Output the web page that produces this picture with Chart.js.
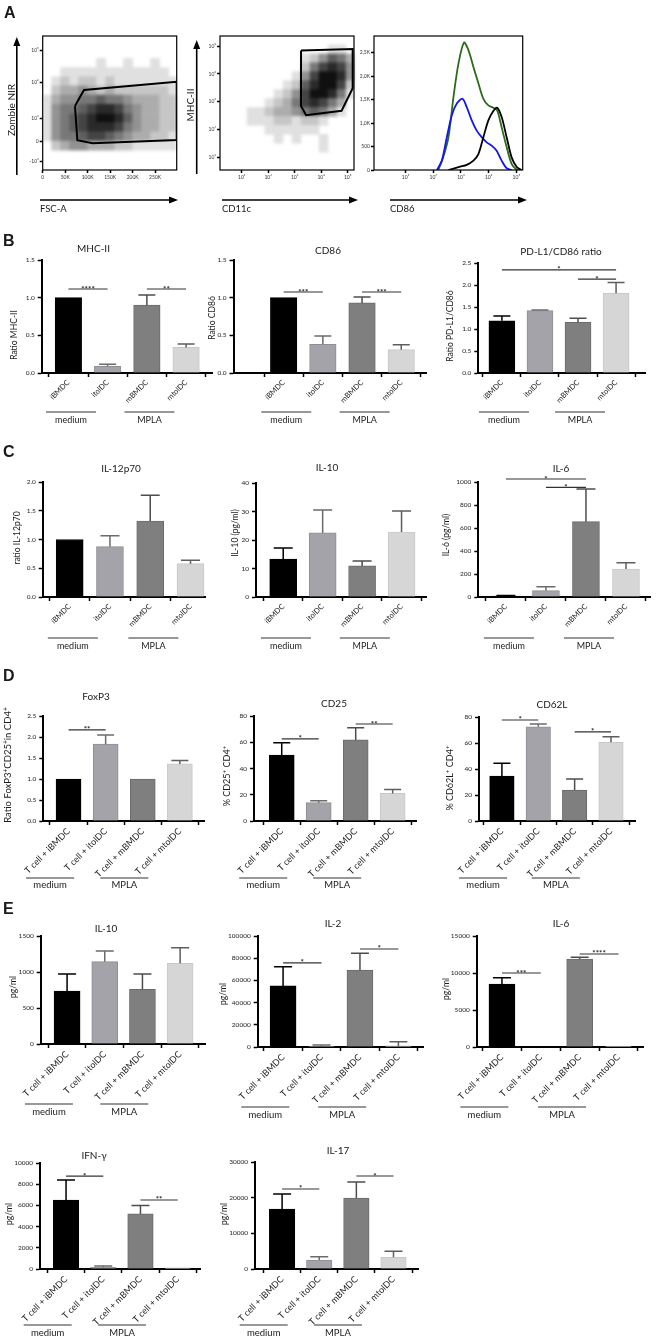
<!DOCTYPE html>
<html><head><meta charset="utf-8">
<script src="https://cdn.jsdelivr.net/npm/chart.js@4.4.1/dist/chart.umd.min.js"></script>
<style>
html,body{margin:0;padding:0;background:#fff}
body{position:relative;width:656px;height:1339px;overflow:hidden;font-family:Lato,"DejaVu Sans",sans-serif;color:#1a1a1a}
canvas{position:absolute}
.t{position:absolute;white-space:nowrap;line-height:1;transform:translate(-50%,-50%);color:#1a1a1a;filter:grayscale(1)}
.r{transform:translate(-50%,-50%) rotate(-90deg)}
.l{position:absolute;white-space:nowrap;line-height:1;transform:translateY(-50%);color:#1a1a1a;filter:grayscale(1)}
.p{position:absolute;font-family:"Liberation Sans",Arial,sans-serif;font-weight:bold;font-size:16px;line-height:1;transform:translateY(-50%)}
sup{font-size:0.7em;vertical-align:0.45em;line-height:0}
svg{position:absolute;left:0;top:0}
</style></head><body>
<svg width="656" height="230">
  <line x1="16.8" y1="175" x2="16.8" y2="44" stroke="#000" stroke-width="1.6"/>
  <polygon points="16.8,37 13.3,46 20.3,46" fill="#000"/>
  <line x1="196.7" y1="174" x2="196.7" y2="47" stroke="#000" stroke-width="1.6"/>
  <polygon points="196.7,40 193.2,49 200.2,49" fill="#000"/>
  <line x1="40" y1="200" x2="172" y2="200" stroke="#000" stroke-width="1.6"/>
  <polygon points="178,200 169,196.5 169,203.5" fill="#000"/>
  <line x1="222" y1="200" x2="352" y2="200" stroke="#000" stroke-width="1.6"/>
  <polygon points="358,200 349,196.5 349,203.5" fill="#000"/>
  <line x1="390" y1="200" x2="521" y2="200" stroke="#000" stroke-width="1.6"/>
  <polygon points="527,200 518,196.5 518,203.5" fill="#000"/>
</svg>
<script>
// ================= DATA =================
// ---- Panel A : flow cytometry ----
const FSC_TICKS = [0, 50, 100, 150, 200, 250];
const FSC_TICK_LABELS = ['0', '50K', '100K', '150K', '200K', '250K'];
const ZNIR_TICKS = [-0.9, 0, 1, 2.55, 3.95];
const ZNIR_TICK_LABELS = ['-10³', '0', '10³', '10⁴', '10⁵'];
const LOG_TICKS = [1, 2, 3, 4, 5];
const LOG_TICK_LABELS = ['10¹', '10²', '10³', '10⁴', '10⁵'];
const COUNT_TICKS = [0, 500, 1000, 1500, 2000, 2500];
const COUNT_TICK_LABELS = ['0', '500', '1,0K', '1,5K', '2,0K', '2,5K'];

// live-cell gate (FSC-A in K, Zombie NIR in display decades)
const LIVE_GATE_FSC = [71.8, 91.8, 298, 298, 111, 77, 71.8];
const LIVE_GATE_ZNIR = [1.52, 2.22, 2.58, 0.04, -0.1, 0.04, 1.52];
// DC gate (CD11c, MHC-II in decades)
const DC_GATE_CD11C = [3.24, 5.19, 5.19, 4.77, 3.43, 3.24, 3.24];
const DC_GATE_MHCII = [4.84, 4.89, 3.49, 2.68, 2.52, 2.85, 4.84];

// event density (0 = empty .. 9 = densest), rows top -> bottom
const LIVE_BINS = { x0: 0, dx: 20, yTop: 4.4, dy: 0.4 };
const LIVE_DENSITY = [
  '000000000000000',
  '000000000000000',
  '000000100100100',
  '001111111111110',
  '012122121111111',
  '023343232222221',
  '134455655433322',
  '145567887543322',
  '145678998643322',
  '145678887543322',
  '145567765433221',
  '023443332211111',
  '000000000000000',
  '000000000000000'
];
const DC_BINS = { x0: 0.18, dx: 0.34, yTop: 5.36, dy: 0.32 };
const DC_DENSITY = [
  '000000000000000',
  '000000000000110',
  '000000000124653',
  '000000000257874',
  '000000001479984',
  '000000012689972',
  '000000124799851',
  '000001235787530',
  '000112334565310',
  '000111221221000',
  '000001111110000',
  '000000101001000',
  '000000000001000',
  '000000000000000',
  '000000000000000'
];

// CD86 histograms (x in decades, y count in K)
const CD86_GREEN_X = [2.18, 2.36, 2.55, 2.73, 2.91, 3.11, 3.27, 3.45, 3.63, 3.81, 3.99, 4.17, 4.31, 4.47, 4.65, 4.83, 5.01, 5.18];
const CD86_GREEN_Y = [0, 0.27, 0.70, 1.56, 2.27, 2.72, 2.56, 2.20, 1.85, 1.52, 1.38, 1.33, 1.27, 0.91, 0.49, 0.13, 0.01, 0];
const CD86_BLUE_X = [2.13, 2.31, 2.49, 2.67, 2.85, 3.06, 3.21, 3.39, 3.57, 3.75, 3.93, 4.11, 4.29, 4.47, 4.65, 4.83];
const CD86_BLUE_Y = [0, 0.20, 0.70, 1.17, 1.42, 1.52, 1.34, 1.06, 0.84, 0.70, 0.59, 0.52, 0.41, 0.20, 0.04, 0];
const CD86_BLACK_X = [2.55, 2.73, 2.97, 3.21, 3.45, 3.63, 3.81, 3.99, 4.17, 4.31, 4.47, 4.65, 4.83, 5.01, 5.18];
const CD86_BLACK_Y = [0, 0.03, 0.07, 0.11, 0.20, 0.34, 0.70, 1.06, 1.26, 1.33, 1.13, 0.70, 0.27, 0.07, 0];

// ---- Bar panels ----
const DC_LABELS = ['iBMDC', 'itolDC', 'mBMDC', 'mtolDC'];
const TCELL_LABELS = ['T cell + iBMDC', 'T cell + itolDC', 'T cell + mBMDC', 'T cell + mtolDC'];
const GROUPS = ['medium', 'MPLA'];

// B
const MHCII_MEAN = [1.00, 0.09, 0.90, 0.34];
const MHCII_SEM = [0, 0.025, 0.135, 0.045];
const MHCII_SIG = [[0, 1, 1.115, '****'], [2, 3, 1.115, '**']];
const CD86_MEAN = [1.00, 0.38, 0.93, 0.31];
const CD86_SEM = [0, 0.11, 0.08, 0.065];
const CD86_SIG = [[0, 1, 1.075, '***'], [2, 3, 1.075, '***']];
const PDL1_MEAN = [1.19, 1.42, 1.155, 1.815];
const PDL1_SEM = [0.11, 0.015, 0.09, 0.245];
const PDL1_SIG = [[0, 3, 2.35, '*'], [2, 3, 2.14, '*']];
// C
const IL12_MEAN = [1.00, 0.875, 1.32, 0.58];
const IL12_SEM = [0, 0.19, 0.45, 0.06];
const IL10DC_MEAN = [13.3, 22.5, 10.9, 22.8];
const IL10DC_SEM = [3.9, 8.0, 1.7, 7.4];
const IL6DC_MEAN = [8, 55, 655, 243];
const IL6DC_SEM = [6, 35, 284, 55];
const IL6DC_SIG = [[0, 2, 1026, '*'], [1, 2, 954, '*']];
// D
const FOXP3_MEAN = [1.00, 1.83, 1.00, 1.36];
const FOXP3_SEM = [0, 0.22, 0, 0.08];
const FOXP3_SIG = [[0, 1, 2.17, '**']];
const CD25_MEAN = [50.3, 14, 61.8, 21];
const CD25_SEM = [9.4, 1.5, 9.2, 3];
const CD25_SIG = [[0, 1, 62.5, '*'], [2, 3, 73.9, '**']];
const CD62L_MEAN = [34.6, 72.5, 23.8, 60.5];
const CD62L_SEM = [9.8, 2.1, 8.5, 4.3];
const CD62L_SIG = [[0, 1, 77.7, '*'], [2, 3, 68.5, '*']];
// E
const IL10T_MEAN = [736, 1143, 760, 1120];
const IL10T_SEM = [236, 149, 212, 217];
const IL2_MEAN = [55000, 600, 69400, 1000];
const IL2_SEM = [17300, 1200, 15000, 3800];
const IL2_SIG = [[0, 1, 75700, '*'], [2, 3, 88300, '*']];
const IL6T_MEAN = [8510, 0, 11890, 40];
const IL6T_SEM = [860, 0, 230, 0];
const IL6T_SIG = [[0, 1, 10000, '***'], [2, 3, 12570, '****']];
const IFNG_MEAN = [6500, 160, 5200, 120];
const IFNG_SEM = [1900, 120, 800, 0];
const IFNG_SIG = [[0, 1, 8770, '*'], [2, 3, 6510, '**']];
const IL17_MEAN = [16800, 2500, 19900, 3300];
const IL17_SEM = [4200, 900, 4500, 1700];
const IL17_SIG = [[0, 1, 22430, '*'], [2, 3, 26070, '*']];

// ================= STYLE / LAYOUT =================
const BAR_FILL = ['#000000', '#a4a3aa', '#7f7f7f', '#d6d6d6'];
const BAR_EDGE = ['#000000', '#8f8e95', '#6b6b6b', '#c8c8c8'];
const ERR_COLOR = ['#000000', '#6b6b6b', '#4d4d4d', '#5e5e5e'];
const FONT = 'Lato, "DejaVu Sans", sans-serif';
Chart.defaults.font.family = FONT;
Chart.defaults.color = '#222';

function place(left, top, w, h, filter) {
  const c = document.createElement('canvas');
  c.width = w; c.height = h;
  c.style.left = left + 'px'; c.style.top = top + 'px';
  c.style.width = w + 'px'; c.style.height = h + 'px';
  if (filter) c.style.filter = filter;
  document.body.appendChild(c);
  return c;
}
function text(html, x, y, size, cls) {
  const d = document.createElement('div');
  d.className = cls;
  d.innerHTML = html;
  d.style.left = x + 'px'; d.style.top = y + 'px';
  d.style.fontSize = size + 'px';
  document.body.appendChild(d);
}

const frame = { id: 'frame', afterDraw(chart) {
  const { ctx, chartArea: a } = chart;
  ctx.save(); ctx.strokeStyle = '#000'; ctx.lineWidth = 1.2;
  ctx.strokeRect(a.left, a.top, a.right - a.left, a.bottom - a.top);
  ctx.restore();
}};

function flowScale(min, max, ticks, labels, fit, show) {
  return {
    type: 'linear', min, max,
    afterBuildTicks: sc => { sc.ticks = ticks.map(v => ({ value: v })); },
    afterFit: fit,
    grid: { display: show, drawOnChartArea: false, drawTicks: true, tickLength: 3, tickWidth: 1.5, tickColor: '#000' },
    border: { display: false },
    ticks: { display: show, autoSkip: false, maxRotation: 0, minRotation: 0, padding: 1, font: { size: 5 }, color: '#333',
      callback: (v, i) => labels[i] }
  };
}

function densityData(rows, b) {
  const pts = [], cols = [];
  rows.forEach((row, r) => [...row].forEach((ch, c) => {
    const d = +ch; if (!d) return;
    pts.push({ x: b.x0 + (c + 0.5) * b.dx, y: b.yTop - (r + 0.5) * b.dy });
    const g = Math.round(250 - d * 26);
    cols.push(`rgb(${g},${g},${g})`);
  }));
  return { pts, cols };
}

function flowChart(o) {
  const cl = Math.floor(o.left - o.wy), ct = Math.floor(o.top - 6);
  const wy = o.left - cl, padT = o.top - ct;
  const w = Math.ceil(o.right + 4 - cl), h = Math.ceil(o.bottom + 16 - ct);
  const padR = w - (o.right - cl), XH = 14, padB = h - XH - (o.bottom - ct);
  const layers = o.density ? [[o.density, false, 'blur(1.6px)'], [o.datasets, true, '']] : [[o.datasets, true, '']];
  layers.forEach(([datasets, show, filter]) => {
    new Chart(place(cl, ct, w, h, filter), {
      type: 'scatter',
      data: { datasets },
      options: {
        responsive: false, animation: false, devicePixelRatio: 1,
        layout: { padding: { left: 0, top: padT, right: padR, bottom: padB } },
        plugins: { legend: { display: false }, tooltip: { enabled: false } },
        scales: {
          x: flowScale(o.xmin, o.xmax, o.xticks, o.xlabels, sc => { sc.height = XH; sc.paddingLeft = 0; sc.paddingRight = 0; }, show),
          y: flowScale(o.ymin, o.ymax, o.yticks, o.ylabels, sc => { sc.width = wy; sc.paddingTop = 0; sc.paddingBottom = 0; }, show)
        }
      },
      plugins: show ? [frame] : []
    });
  });
}

function densitySet(rows, b) {
  const dd = densityData(rows, b);
  return {
    data: dd.pts, backgroundColor: dd.cols, pointStyle: 'rect', pointBorderWidth: 0,
    pointRadius: ctx => {
      const sx = ctx.chart.scales.x, sy = ctx.chart.scales.y;
      const px = Math.abs(sx.getPixelForValue(b.dx) - sx.getPixelForValue(0));
      const py = Math.abs(sy.getPixelForValue(b.dy) - sy.getPixelForValue(0));
      return (Math.max(px, py) + 0.6) / Math.SQRT2;
    }
  };
}
function lineSet(xs, ys, color, width, order, tension) {
  return { data: xs.map((x, i) => ({ x, y: ys[i] })), showLine: true, borderColor: color, borderWidth: width,
    pointRadius: 0, fill: false, tension: tension, order };
}

// A1
flowChart({ left: 42.7, right: 176.7, top: 36, bottom: 170, wy: 20,
  xmin: 0, xmax: 298, ymin: -1.26, ymax: 4.57,
  xticks: FSC_TICKS, xlabels: FSC_TICK_LABELS, yticks: ZNIR_TICKS, ylabels: ZNIR_TICK_LABELS,
  density: [densitySet(LIVE_DENSITY, LIVE_BINS)],
  datasets: [lineSet(LIVE_GATE_FSC, LIVE_GATE_ZNIR, '#000', 2, 0, 0)] });
// A2
flowChart({ left: 220, right: 354, top: 36, bottom: 170, wy: 18,
  xmin: 0.18, xmax: 5.24, ymin: 0.56, ymax: 5.36,
  xticks: LOG_TICKS, xlabels: LOG_TICK_LABELS, yticks: LOG_TICKS, ylabels: LOG_TICK_LABELS,
  density: [densitySet(DC_DENSITY, DC_BINS)],
  datasets: [lineSet(DC_GATE_CD11C, DC_GATE_MHCII, '#000', 2, 0, 0)] });
// A3
flowChart({ left: 374, right: 522.7, top: 36, bottom: 170, wy: 20,
  xmin: -0.14, xmax: 5.23, ymin: 0, ymax: 2860,
  xticks: LOG_TICKS, xlabels: LOG_TICK_LABELS, yticks: COUNT_TICKS, ylabels: COUNT_TICK_LABELS,
  datasets: [
    lineSet(CD86_BLACK_X, CD86_BLACK_Y.map(v => v * 1000), '#000000', 1.8, 0, 0.3),
    lineSet(CD86_BLUE_X, CD86_BLUE_Y.map(v => v * 1000), '#1414f0', 1.8, 1, 0.3),
    lineSet(CD86_GREEN_X, CD86_GREEN_Y.map(v => v * 1000), '#2c6b1c', 1.8, 2, 0.3)
  ] });

// ---------------- bar charts ----------------
function extras(s) {
  return { id: 'extras', afterDatasetsDraw(chart) {
    const ctx = chart.ctx, xs = chart.scales.x, ys = chart.scales.y, ca = chart.chartArea;
    ctx.save();
    s.mean.forEach((m, i) => {
      const e = s.sem[i]; if (!e) return;
      const x = xs.getPixelForValue(i), y1 = ys.getPixelForValue(m), y2 = ys.getPixelForValue(m + e);
      ctx.strokeStyle = ERR_COLOR[i]; ctx.lineWidth = 1.5;
      ctx.beginPath(); ctx.moveTo(x, y1); ctx.lineTo(x, y2);
      ctx.moveTo(x - s.cap / 2, y2); ctx.lineTo(x + s.cap / 2, y2); ctx.stroke();
    });
    ctx.strokeStyle = '#333'; ctx.lineWidth = 1.2; ctx.fillStyle = '#222';
    ctx.font = 'bold 8px ' + FONT; ctx.textAlign = 'center'; ctx.textBaseline = 'alphabetic';
    (s.sig || []).forEach(([a, b, v, t]) => {
      const xa = xs.getPixelForValue(a), xb = xs.getPixelForValue(b), y = ys.getPixelForValue(v);
      ctx.beginPath(); ctx.moveTo(xa, y); ctx.lineTo(xb, y); ctx.stroke();
      ctx.fillText(t, (xa + xb) / 2, y + 2.5);
    });
    ctx.font = (s.long ? 9.5 : 9) + 'px ' + FONT; ctx.textBaseline = 'middle'; ctx.fillStyle = '#1a1a1a';
    GROUPS.forEach((g, k) => {
      const cx = (xs.getPixelForValue(2 * k) + xs.getPixelForValue(2 * k + 1)) / 2 + s.gdx;
      const yl = ca.bottom + s.gl, yt = ca.bottom + s.gt;
      ctx.beginPath(); ctx.moveTo(cx - s.gw / 2, yl); ctx.lineTo(cx + s.gw / 2, yl); ctx.stroke();
      ctx.fillText(g, cx, yt);
    });
    ctx.restore();
  }};
}

function barChart(s) {
  const WY = 36, PADT = 14, PADR = 6;
  const extra = s.long ? 72 : 56;
  const cl = Math.floor(s.x0 - WY), ct = Math.floor(s.yT - PADT);
  const wy = s.x0 - cl, padT = s.yT - ct;
  const w = Math.ceil(s.x1 + PADR - cl), h = Math.ceil(s.yB + extra - ct);
  const padR = w - (s.x1 - cl);
  const padB = 1;
  const XH = h - padB - (s.yB - ct);
  new Chart(place(cl, ct, w, h), {
    type: 'bar',
    data: { datasets: [{ data: s.mean.map((v, i) => ({ x: i, y: v })), backgroundColor: BAR_FILL,
      borderColor: BAR_EDGE, borderWidth: 1, barThickness: s.bw }] },
    options: {
      responsive: false, animation: false, devicePixelRatio: 1,
      layout: { padding: { left: 0, top: padT, right: padR, bottom: padB } },
      plugins: { legend: { display: false }, tooltip: { enabled: false } },
      scales: {
        x: { type: 'linear', min: s.xmin, max: s.xmax, offset: false,
          afterBuildTicks: sc => { sc.ticks = s.labels.map((_, i) => ({ value: i })); },
          afterFit: sc => { sc.height = XH; sc.paddingLeft = 0; sc.paddingRight = 0; },
          grid: { display: true, drawOnChartArea: false, drawTicks: true, tickLength: 4, tickWidth: 1.5, tickColor: '#000' },
          border: { display: true, color: '#000', width: 2 },
          ticks: { autoSkip: false, maxRotation: 45, minRotation: 45, padding: 1,
            font: { size: s.long ? 9 : 7.5 }, color: '#222', callback: v => s.labels[v] } },
        y: { type: 'linear', min: 0, max: s.max,
          afterBuildTicks: sc => { const t = []; for (let v = 0; v <= s.max + 1e-9; v += s.step) t.push({ value: +v.toFixed(6) }); sc.ticks = t; },
          afterFit: sc => { sc.width = wy; sc.paddingTop = 0; sc.paddingBottom = 0; },
          grid: { display: true, drawOnChartArea: false, drawTicks: true, tickLength: 4, tickWidth: 1.5, tickColor: '#000' },
          border: { display: true, color: '#000', width: 2 },
          ticks: { padding: 3, font: { size: 6.5 }, color: '#222',
            callback: v => s.dec ? v.toFixed(s.dec) : String(v) } }
      }
    },
    plugins: [extras(s)]
  });
}

const SHORT = { long: false, gdx: -17, gw: 50 };
const LONG = { long: true, gdx: -37, gw: 48 };
[
  { ...SHORT, x0: 41.7, x1: 212, yT: 260, yB: 373, xmin: -0.68, xmax: 3.66, max: 1.5, step: 0.5, dec: 1, labels: DC_LABELS, mean: MHCII_MEAN, sem: MHCII_SEM, sig: MHCII_SIG, bw: 26.5, cap: 17, gl: 39, gt: 47 },
  { ...SHORT, x0: 233.5, x1: 426.7, yT: 260, yB: 373, xmin: -1.28, xmax: 3.65, max: 1.5, step: 0.5, dec: 1, labels: DC_LABELS, mean: CD86_MEAN, sem: CD86_SEM, sig: CD86_SIG, bw: 26.5, cap: 17, gl: 39, gt: 47 },
  { ...SHORT, x0: 478.3, x1: 645, yT: 263.3, yB: 373, xmin: -0.62, xmax: 3.76, max: 2.5, step: 0.5, dec: 1, labels: DC_LABELS, mean: PDL1_MEAN, sem: PDL1_SEM, sig: PDL1_SIG, bw: 26, cap: 17, gl: 39, gt: 47 },
  { ...SHORT, x0: 42.7, x1: 205, yT: 482, yB: 597, xmin: -0.67, xmax: 3.36, max: 2, step: 0.5, dec: 1, labels: DC_LABELS, mean: IL12_MEAN, sem: IL12_SEM, sig: [], bw: 27, cap: 19, gl: 41, gt: 49 },
  { ...SHORT, x0: 256, x1: 426, yT: 483, yB: 597, xmin: -0.69, xmax: 3.62, max: 40, step: 10, dec: 0, labels: DC_LABELS, mean: IL10DC_MEAN, sem: IL10DC_SEM, sig: [], bw: 27, cap: 19, gl: 41, gt: 49 },
  { ...SHORT, x0: 478.3, x1: 650, yT: 482, yB: 597, xmin: -0.69, xmax: 3.6, max: 1000, step: 200, dec: 0, labels: DC_LABELS, mean: IL6DC_MEAN, sem: IL6DC_SEM, sig: IL6DC_SIG, bw: 27, cap: 19, gl: 41, gt: 49 },
  { ...LONG, x0: 43.3, x1: 204, yT: 716, yB: 821, xmin: -0.68, xmax: 3.65, max: 2.5, step: 0.5, dec: 1, labels: TCELL_LABELS, mean: FOXP3_MEAN, sem: FOXP3_SEM, sig: FOXP3_SIG, bw: 25, cap: 17, gl: 57, gt: 64 },
  { ...LONG, x0: 254, x1: 416.7, yT: 716, yB: 821, xmin: -0.75, xmax: 3.65, max: 80, step: 20, dec: 0, labels: TCELL_LABELS, mean: CD25_MEAN, sem: CD25_SEM, sig: CD25_SIG, bw: 25, cap: 17, gl: 57, gt: 64 },
  { ...LONG, x0: 479, x1: 635, yT: 717, yB: 821, xmin: -0.63, xmax: 3.66, max: 80, step: 20, dec: 0, labels: TCELL_LABELS, mean: CD62L_MEAN, sem: CD62L_SEM, sig: CD62L_SIG, bw: 24.5, cap: 17, gl: 57, gt: 64 },
  { ...LONG, x0: 40.7, x1: 205, yT: 936, yB: 1044, xmin: -0.70, xmax: 3.66, max: 1500, step: 500, dec: 0, labels: TCELL_LABELS, mean: IL10T_MEAN, sem: IL10T_SEM, sig: [], bw: 26, cap: 18, gl: 60, gt: 68 },
  { ...LONG, x0: 257.7, x1: 423, yT: 936, yB: 1047, xmin: -0.66, xmax: 3.64, max: 100000, step: 20000, dec: 0, labels: TCELL_LABELS, mean: IL2_MEAN, sem: IL2_SEM, sig: IL2_SIG, bw: 26, cap: 18, gl: 60, gt: 68 },
  { ...LONG, x0: 476.7, x1: 643, yT: 936, yB: 1047, xmin: -0.65, xmax: 3.63, max: 15000, step: 5000, dec: 0, labels: TCELL_LABELS, mean: IL6T_MEAN, sem: IL6T_SEM, sig: IL6T_SIG, bw: 26, cap: 18, gl: 60, gt: 68 },
  { ...LONG, x0: 40, x1: 200, yT: 1163, yB: 1269, xmin: -0.7, xmax: 3.6, max: 10000, step: 2000, dec: 0, labels: TCELL_LABELS, mean: IFNG_MEAN, sem: IFNG_SEM, sig: IFNG_SIG, bw: 25.5, cap: 18, gl: 56, gt: 64 },
  { ...LONG, x0: 255, x1: 418, yT: 1162, yB: 1269, xmin: -0.73, xmax: 3.66, max: 30000, step: 10000, dec: 0, labels: TCELL_LABELS, mean: IL17_MEAN, sem: IL17_SEM, sig: IL17_SIG, bw: 25.5, cap: 18, gl: 56, gt: 64 }
].forEach(barChart);

// ---------------- text ----------------
const PANEL_LETTERS = [['A', 4, 13], ['B', 3, 241], ['C', 3, 452], ['D', 3, 676], ['E', 3, 909]];
PANEL_LETTERS.forEach(([t, x, y]) => text(t, x, y, 16, 'p'));

const CHART_TITLES = [
  ['MHC-II', 93.5, 248.3], ['CD86', 328, 250], ['PD-L1/CD86 ratio', 561, 250.7],
  ['IL-12p70', 121, 468.3], ['IL-10', 327, 467], ['IL-6', 561, 467.7],
  ['FoxP3', 96, 696], ['CD25', 334, 703.3], ['CD62L', 552, 704],
  ['IL-10', 106, 928.3], ['IL-2', 333, 923.3], ['IL-6', 561, 923.3],
  ['IFN-γ', 94, 1155], ['IL-17', 338, 1150]
];
CHART_TITLES.forEach(([t, x, y]) => text(t, x, y, 10, 't'));

const AXIS_TITLES = [
  ['Zombie NIR', 10.5, 110, 10], ['MHC-II', 190, 105, 10],
  ['Ratio MHC-II', 13.5, 335, 8.5], ['Ratio CD86', 212, 318, 8.5], ['Ratio PD-L1/CD86', 450, 326, 8.5],
  ['ratio IL-12p70', 17, 538, 8.5], ['IL-10 (pg/ml)', 234.5, 533, 8.5], ['IL-6 (pg/ml)', 446, 535, 8.5],
  ['Ratio FoxP3<sup>+</sup>CD25<sup>+</sup>in CD4<sup>+</sup>', 8, 765, 9.5], ['% CD25<sup>+</sup> CD4<sup>+</sup>', 226, 776, 9], ['% CD62L<sup>+</sup> CD4<sup>+</sup>', 449, 778, 9],
  ['pg/ml', 13, 987, 8.5], ['pg/ml', 222.5, 994, 8.5], ['pg/ml', 446, 989, 8.5],
  ['pg/ml', 9, 1214, 8.5], ['pg/ml', 224, 1214, 8.5]
];
AXIS_TITLES.forEach(([t, x, y, s]) => text(t, x, y, s, 't r'));

const FLOW_X_NAMES = [['FSC-A', 40, 208.5], ['CD11c', 222, 208.5], ['CD86', 390, 208.5]];
FLOW_X_NAMES.forEach(([t, x, y]) => text(t, x, y, 9.5, 'l'));
</script>
</body></html>
